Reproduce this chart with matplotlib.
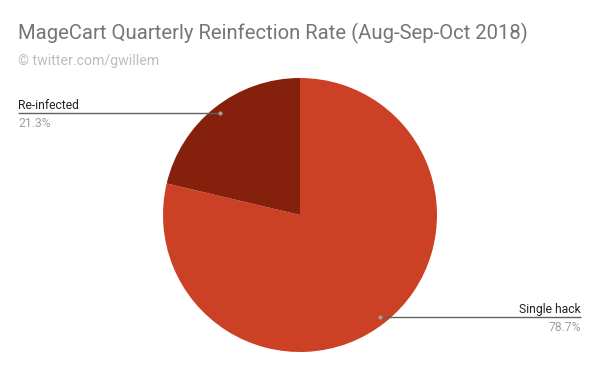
import numpy as np
import matplotlib
matplotlib.use("Agg")
import matplotlib.pyplot as plt

labels = ["Single hack", "Re-infected"]
shares = [78.7, 21.3]
colors = ["#cc4125", "#85200c"]

plt.rcParams['font.family'] = ['Roboto', 'DejaVu Sans']

W, H = 600, 371
fig = plt.figure(figsize=(W / 100, H / 100), dpi=100)
ax = fig.add_axes([0, 0, 1, 1])

# pie center / radius in pixel coords (y measured from bottom)
cx, cy, r = 300, H - 215, 137
wedges, _ = ax.pie(shares, colors=colors, startangle=90, counterclock=False,
                   center=(cx, cy), radius=r, frame=True,
                   wedgeprops=dict(linewidth=0))
ax.set_xlim(0, W)
ax.set_ylim(0, H)
ax.set_aspect('equal')
ax.axis('off')

# leader lines with labels
for w, lab, val in zip(wedges, labels, shares):
    mid = np.deg2rad((w.theta1 + w.theta2) / 2)
    px = cx + 0.945 * r * np.cos(mid)
    py = cy + 0.945 * r * np.sin(mid)
    if np.cos(mid) < 0:
        xe, ha = 18, 'left'
    else:
        xe, ha = 581, 'right'
    ax.plot([px, xe], [py, py], color='#616161', lw=1, solid_capstyle='butt')
    ax.plot(px, py, 'o', color='#9e9e9e', ms=3, mec='none')
    ax.text(xe, py + 4, lab, ha=ha, va='baseline', fontsize=8.7, color='#222222')
    ax.text(xe, py - 14, f"{val}%", ha=ha, va='baseline', fontsize=8.7, color='#9e9e9e')

fig.text(18 / W, 1 - 39 / H, "MageCart Quarterly Reinfection Rate (Aug-Sep-Oct 2018)",
         fontsize=14.6, color='#757575', ha='left', va='baseline')
fig.text(18 / W, 1 - 65 / H, "© twitter.com/gwillem",
         fontsize=10.2, color='#bdbdbd', ha='left', va='baseline')

fig.savefig("out.png", dpi=100)
